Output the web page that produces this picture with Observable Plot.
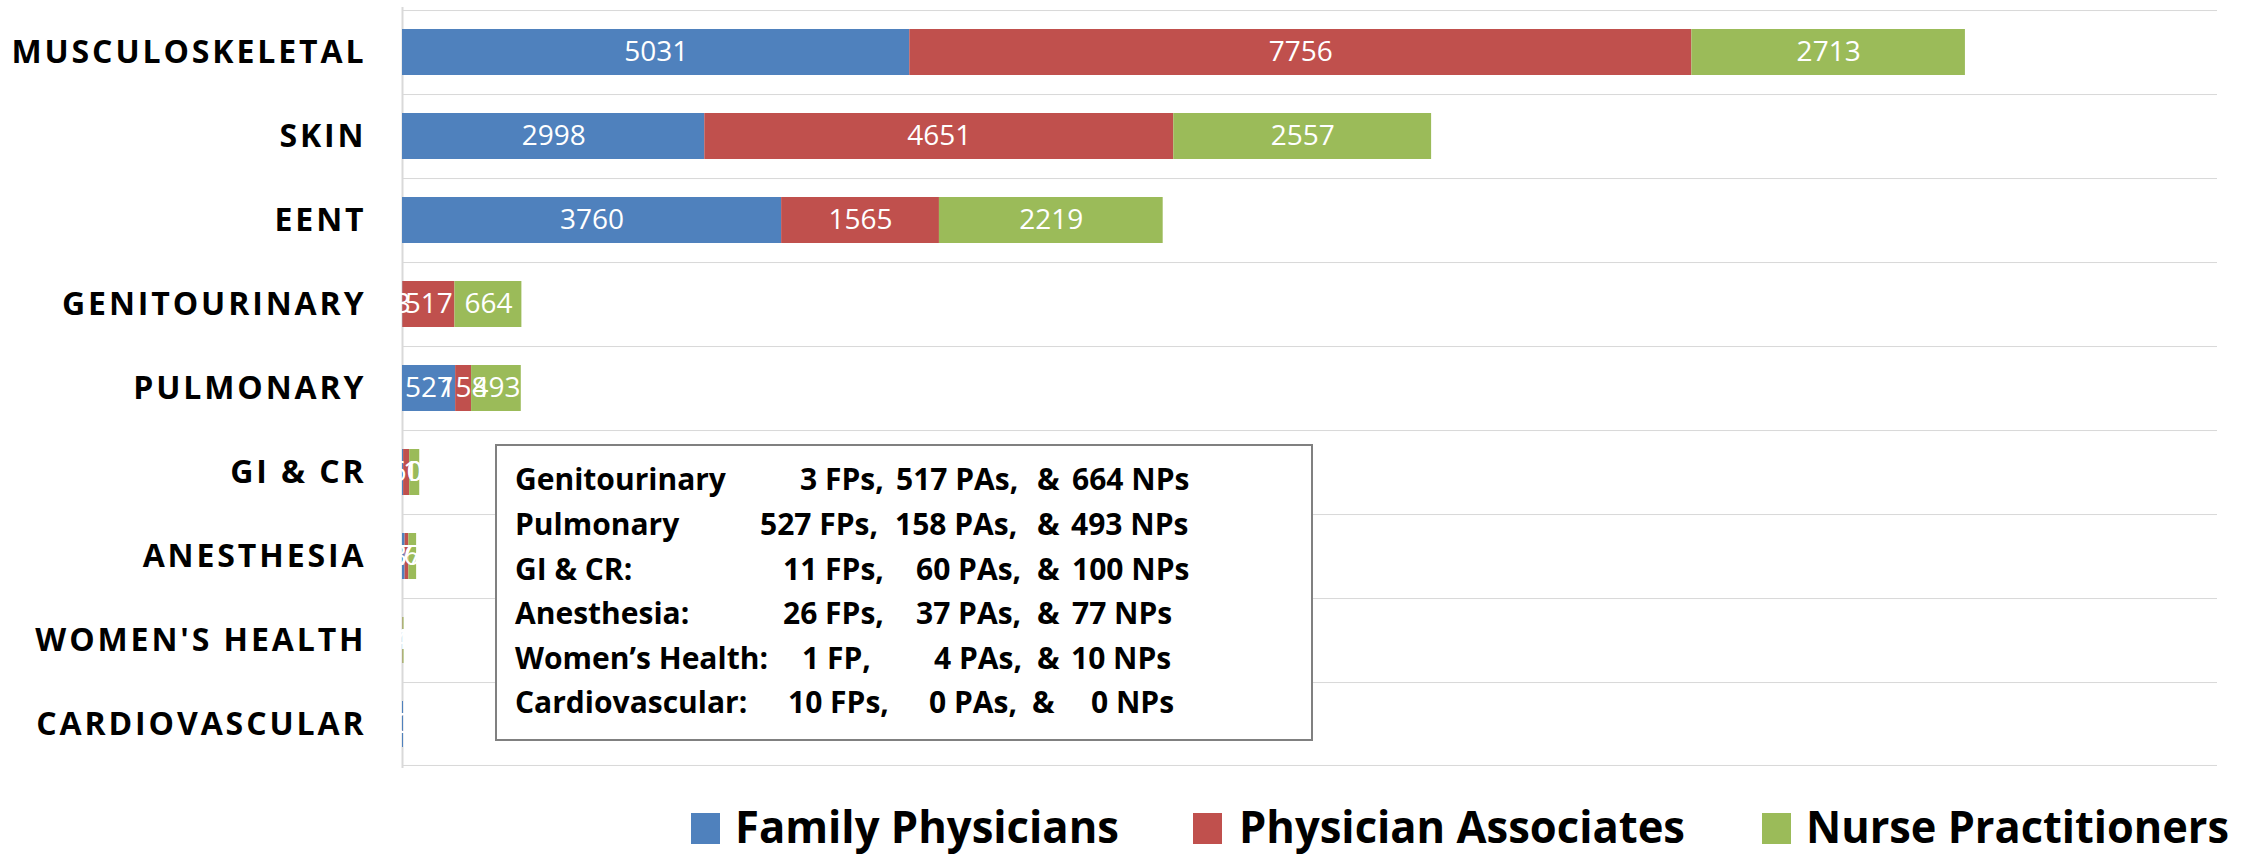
<!DOCTYPE html>
<html><head><meta charset="utf-8">
<script src="https://cdn.jsdelivr.net/npm/d3@7"></script>
<script src="https://cdn.jsdelivr.net/npm/@observablehq/plot@0.6"></script>
<style>
body{margin:0;background:#fff;font-family:"Open Sans",sans-serif;}
#wrap{position:relative;width:2257px;height:855px;overflow:hidden;}
#wrap svg{display:block;}
#note{position:absolute;left:0;top:0;pointer-events:none;}
</style></head><body><div id="wrap"></div>
<script>
// ---- data ----
const categories = ["MUSCULOSKELETAL","SKIN","EENT","GENITOURINARY","PULMONARY","GI & CR","ANESTHESIA","WOMEN'S HEALTH","CARDIOVASCULAR"];
const series = ["Family Physicians","Physician Associates","Nurse Practitioners"];
const colors = ["#4F81BD","#C0504D","#9BBB59"];
const familyPhysicians    = [5031, 2998, 3760,   3, 527,  11, 26,  1, 10];
const physicianAssociates = [7756, 4651, 1565, 517, 158,  60, 37,  4,  0];
const nursePractitioners  = [2713, 2557, 2219, 664, 493, 100, 77, 10,  0];
const xDomain = [0, 18000];
const noteNames = ["Genitourinary","Pulmonary","GI & CR:","Anesthesia:","Women\u2019s Health:","Cardiovascular:"];
const noteFirst = 3; // note lists categories from GENITOURINARY onward

const valuesBySeries = [familyPhysicians, physicianAssociates, nursePractitioners];
const rows = [];
categories.forEach((c, i) => series.forEach((s, j) => rows.push({cat: c, series: s, value: valuesBySeries[j][i]})));

// ---- layout ----
const W = 2257, H = 780, mT = 7, mB = 12, mL = 402, mR = 40;
const step = (H - mT - mB) / categories.length;
const barInset = 19;
const gridW = 1.6;

const chart = Plot.plot({
  width: W, height: H,
  marginTop: mT, marginBottom: mB, marginLeft: mL, marginRight: mR,
  style: {fontFamily: "Open Sans", fontSize: "32px", background: "white", overflow: "visible"},
  x: {domain: xDomain, axis: null},
  y: {domain: categories, padding: 0, label: null, tickSize: 0, tickPadding: 36},
  color: {domain: series, range: colors},
  marks: [
    Plot.barX(categories, {y: d => d, x1: xDomain[0], x2: xDomain[1], fill: "#d9d9d9", insetBottom: step - gridW}),
    Plot.barX(categories.slice(-1), {y: d => d, x1: xDomain[0], x2: xDomain[1], fill: "#d9d9d9", insetTop: step - gridW}),
    Plot.ruleX([0], {stroke: "#d9d9d9", strokeWidth: 2}),
    Plot.barX(rows, {y: "cat", x: "value", fill: "series", insetTop: barInset, insetBottom: barInset}),
    Plot.textX(rows, Plot.stackX({y: "cat", x: "value", z: "series", text: d => String(d.value),
      fill: "white", fontSize: 28, fontFamily: "Open Sans"}))
  ]
});

d3.select(chart).selectAll('[aria-label^="y-axis"] text')
  .style("font-weight", "700").style("letter-spacing", "2.9px")
  .style("font-size", "32px").style("fill", "#000");

const wrap = document.getElementById("wrap");
wrap.appendChild(chart);

// ---- legend (below the plot) ----
const legend = d3.select(wrap).append("svg").attr("width", W).attr("height", 855 - H);
const swX = [691, 1193, 1762], txX = [735, 1239, 1806], txW = [384, 446, 423];
series.forEach((s, j) => {
  legend.append("rect").attr("x", swX[j]).attr("y", 33).attr("width", 29).attr("height", 31).attr("fill", colors[j]);
  legend.append("text").attr("x", txX[j]).attr("y", 63)
    .attr("textLength", txW[j]).attr("lengthAdjust", "spacingAndGlyphs")
    .style("font-family", "Open Sans").style("font-weight", "700").style("font-size", "44px")
    .attr("fill", "#000").text(s);
});

// ---- annotation box ----
const note = d3.select(wrap).append("svg").attr("id", "note").attr("width", W).attr("height", H);
note.append("rect").attr("x", 496).attr("y", 445).attr("width", 816).attr("height", 295)
  .attr("fill", "white").attr("stroke", "#808080").attr("stroke-width", 2);
const baseY = [490, 535, 580, 624, 669, 713];
const fpX = [800, 760, 783, 783, 802, 788];
const paX = [896, 895, 916, 916, 934, 929];
const ampX = [1037, 1037, 1037, 1037, 1037, 1032];
const npX = [1072, 1071, 1072, 1072, 1071, 1091];
const g = note.append("g").style("font-family", "Open Sans").style("font-weight", "700").style("font-size", "30px").attr("fill", "#000");
noteNames.forEach((name, k) => {
  const i = noteFirst + k;
  const fp = familyPhysicians[i], pa = physicianAssociates[i], np = nursePractitioners[i];
  const parts = [
    [515, name],
    [fpX[k], fp === 1 ? `${fp} FP,` : `${fp} FPs,`],
    [paX[k], `${pa} PAs,`],
    [ampX[k], "&"],
    [npX[k], `${np} NPs`]
  ];
  parts.forEach(([x, t]) => g.append("text").attr("x", x).attr("y", baseY[k]).text(t));
});
</script></body></html>
